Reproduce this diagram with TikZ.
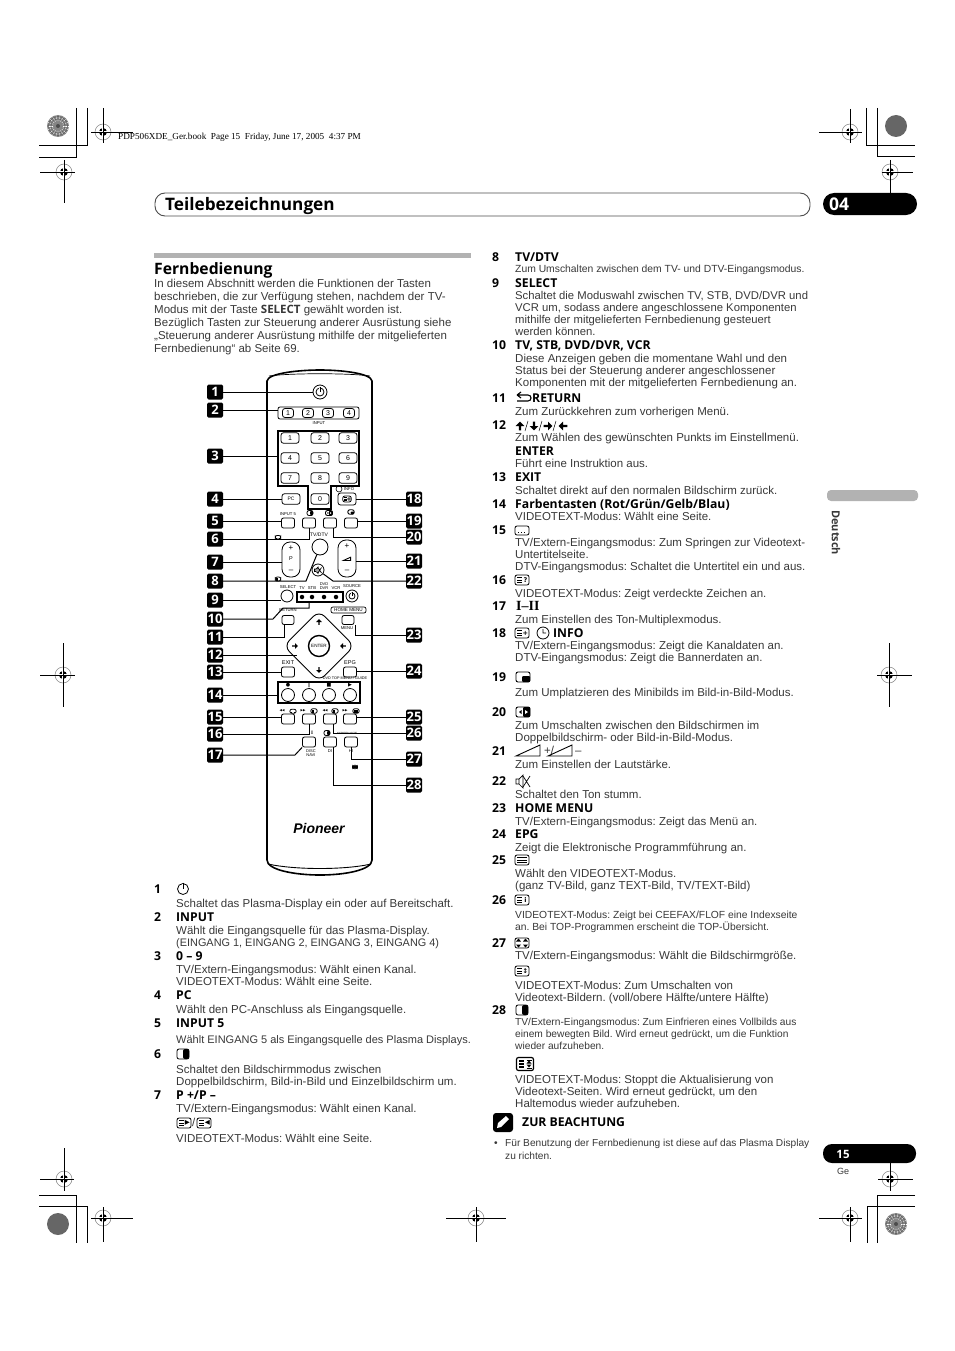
\documentclass[tikz,border=0pt]{standalone}
\usepackage{fontspec}
\usepackage{tikz}
\usetikzlibrary{shapes.geometric}
\setmainfont{Liberation Sans}
\newfontfamily\hdfont{Open Sans}
\newfontfamily\symfont{DejaVu Sans}
\newfontfamily\slugfont{Liberation Serif}
\definecolor{txtgray}{gray}{0.22}
\newcommand{\fs}[2]{\fontsize{#1}{#2}\selectfont\frenchspacing}
\tikzset{
  num/.style={anchor=west,inner sep=0,yshift=-1pt,text height=8.5pt,text depth=2pt,font=\hdfont\bfseries\fs{12.2}{13}},
  hd/.style={num},
  dsc/.style={anchor=north west,inner sep=0,yshift=-2pt,align=left,text=txtgray,font=\fs{11.5}{12.2}},
  inl/.style={anchor=west,inner sep=0,text height=8pt,text depth=2pt,text=txtgray,font=\fs{11.5}{12}},
  badge/.style={fill=black,text=white,rounded corners=1.5,inner sep=0,minimum height=15,minimum width=16,font=\hdfont\bfseries\fs{13}{13}},
  lead/.style={line width=1,line join=miter},
  key/.style={draw,rounded corners=2.5,line width=.8,inner sep=0,minimum width=18,minimum height=10.5,font=\fs{7}{7}},
  soft/.style={draw,rounded corners=2,line width=.8,inner sep=0,minimum width=13,minimum height=10},
  rnd/.style={draw,circle,line width=.8,inner sep=0},
  lab/.style={inner sep=0,font=\fs{4.2}{5}},
  pics/regmark/.style n args={4}{code={
    \draw[gray,line width=.5] (0,0) circle (8);
    \fill (0,0) circle (4);
    \draw[white,line width=1.7] (-5,0) -- (5,0) (0,-5) -- (0,5);
    \draw[line width=.9] (-#1,0) -- (#2,0) (0,-#3) -- (0,#4);
  }},
  pics/disk/.style={code={
    \fill[black!60] (0,0) circle (11);
  }},
  pics/diskm/.style={code={
    \fill[black!48] (0,0) circle (11);
    \foreach \a in {0,20,...,340}
      \draw[white,line width=.4] (\a:5) -- (\a:10.5);
    \draw[black!65,line width=.5] (0,0) circle (7) (0,0) circle (9.5);
    \fill[black!70] (0,0) circle (2);
  }},
  pics/pwricon/.style={code={
    \draw[line width=.8] (0,0) circle (#1);
    \draw[white,line width=2] (0,-#1) -- (0,-.3);
    \draw[line width=.9] (0,-#1-1) -- (0,0);
  }},
  pics/txtbox/.style={code={
    \draw[line width=.8,rounded corners=2] (-7,-5) rectangle (7,5);
    \draw[line width=.8] (-5,-2.4) -- (-.5,-2.4) (-5,0) -- (-.5,0) (-5,2.4) -- (-.5,2.4);
    \node[inner sep=0,font=\symfont\bfseries\fs{6.5}{7}] (-m) at (3.4,0) {#1};
  }},
  pics/holdbox/.style={code={
    \draw[line width=1.2,rounded corners=2] (-8.5,-6.5) rectangle (8.5,6.5);
    \draw[line width=1.1] (-6,-3) -- (-1,-3) (-6,0) -- (-1,0) (-6,3) -- (-1,3);
    \draw[line width=1] (1.5,-4) -- (6.5,-4) (1.5,4) -- (6.5,4);
    \fill (4,-3.5) -- (6.5,-.5) -- (1.5,-.5) -- cycle (4,3.5) -- (6.5,.5) -- (1.5,.5) -- cycle;
  }},
  pics/fullbox/.style={code={
    \draw[line width=.8,rounded corners=2] (-7,-5) rectangle (7,5);
    \draw[line width=.8] (-5,-2.4) -- (5,-2.4) (-5,0) -- (5,0) (-5,2.4) -- (5,2.4);
  }},
  pics/halfbox/.style={code={
    \draw[line width=.8,rounded corners=2] (-6,-5) rectangle (6,5);
    \fill[rounded corners=2] (0,-5) rectangle (6,5);
  }},
  pics/bubble/.style={code={
    \draw[line width=.8,rounded corners=2] (-7,-4) rectangle (7,5);
    \draw[line width=.9,dotted] (-4,2.8) -- (4,2.8);
  }},
  pics/swapbox/.style={code={
    \draw[line width=.9,rounded corners=2] (-7,-5) rectangle (7,5);
    \fill[rounded corners=1] (-1,-1) rectangle (7,5);
  }},
  pics/pairbox/.style={code={
    \draw[line width=.9,rounded corners=2] (-7,-5) rectangle (7,5);
    \fill[rounded corners=1] (0,-5) rectangle (7,5);
    \fill (-4,0) -- (-1.5,-2) -- (-1.5,2) -- cycle;
    \fill[white] (5,0) -- (2,-2) -- (2,2) -- cycle;
  }},
  pics/sizebox/.style={code={
    \draw[line width=.8,rounded corners=2] (-7,-5) rectangle (7,5);
    \fill (-3.5,-4.5) -- (-1,-1.5) -- (-6,-1.5) -- cycle (-3.5,4.5) -- (-1,1.5) -- (-6,1.5) -- cycle;
    \fill (3.5,-4.5) -- (6,-1.5) -- (1,-1.5) -- cycle (3.5,4.5) -- (6,1.5) -- (1,1.5) -- cycle;
  }},
  pics/barrow/.style={code={
    \fill (0,-4) -- (4,0) -- (1,0) -- (1,4) -- (-1,4) -- (-1,0) -- (-4,0) -- cycle;
  }},
  pics/wedge/.style={code={
    \draw[line width=.9] (-12,5) -- (12,5) -- (12,-6) -- cycle;
  }},
  pics/muteicon/.style={code={
    \draw[line width=.7] (-7,-2) rectangle (-4,3) (-4,-2) -- (0,-6) -- (0,7) -- (-4,3);
    \draw[line width=.7] (0,-5) -- (7,6) (7,-5) -- (0,6);
  }}
}
\begin{document}
\begin{tikzpicture}[x=1pt,y=-1pt]
\useasboundingbox (0,0) rectangle (954,1351);

% Print marks
\pic at (103,132) {regmark={12}{30}{24}{11}};
\pic at (64,172) {regmark={24}{11}{12}{31}};
\pic at (850,132) {regmark={31}{12}{23}{11}};
\pic at (890,172) {regmark={8}{23}{12}{21}};
\pic at (63,675) {regmark={23}{12}{32}{32}};
\pic at (889,675) {regmark={12}{23}{32}{32}};
\pic at (64,1179) {regmark={24}{10}{31}{12}};
\pic at (103,1218) {regmark={12}{30}{11}{24}};
\pic at (476,1218) {regmark={30}{30}{11}{24}};
\pic at (850,1218) {regmark={31}{12}{11}{24}};
\pic at (890,1179) {regmark={12}{23}{31}{12}};
\pic at (58,126) {diskm};
\pic at (896,126) {disk};
\pic at (58,1224) {disk};
\pic at (896,1224) {diskm};
\draw[line width=.9] (76,108) -- (76,157) -- (39,157) (87,108) -- (87,145) -- (39,145);
\draw[line width=.9] (866,108) -- (866,145) -- (915,145) (877,108) -- (877,156) -- (915,156);
\draw[line width=.9] (39,1195) -- (76,1195) -- (76,1243) (39,1206) -- (87,1206) -- (87,1243);
\draw[line width=.9] (915,1195) -- (877,1195) -- (877,1243) (915,1206) -- (867,1206) -- (867,1243);
\node[anchor=west,inner sep=0,font=\slugfont\fs{9.2}{9}] (slug) at (118,137) {PDP506XDE\_Ger.book\ \ Page 15\ \ Friday, June 17, 2005\ \ 4:37 PM};

% Header
\draw[black!70,line width=.9,rounded corners=10] (155,193) rectangle (810,216);
\node[anchor=west,inner sep=0,font=\hdfont\bfseries\fs{17.2}{19}] (title) at (165,206) {Teilebezeichnungen};
\fill[rounded corners=11] (823,193) rectangle (917,215);
\node[anchor=west,inner sep=0,text=white,font=\hdfont\bfseries\fs{17.5}{17}] (chap) at (829,204) {04};
\fill[gray!60,rounded corners=4] (827,490) rectangle (918,501);
\node[rotate=-90,anchor=west,inner sep=0,text=txtgray,font=\hdfont\bfseries\fs{11}{11}] (lang) at (836,510) {Deutsch};
\fill[rounded corners=9] (823,1144) rectangle (916,1163);
\node[inner sep=0,text=white,font=\hdfont\bfseries\fs{11.5}{12}] (page) at (843,1154) {15};
\node[inner sep=0,text=txtgray,font=\fs{9}{10}] (pagelang) at (843,1171) {Ge};

% Intro
\fill[gray!60] (154,253) rectangle (471,258);
\node[anchor=west,inner sep=0,font=\hdfont\bfseries\fs{15.7}{17}] (sect) at (154,270) {Fernbedienung};
\node[dsc,font=\fs{11.5}{13}] (intro) at (154,277) {In diesem Abschnitt werden die Funktionen der Tasten\\
beschrieben, die zur Verfügung stehen, nachdem der TV-\\
Modus mit der Taste {\hdfont\bfseries SELECT} gewählt worden ist.\\
Bezüglich Tasten zur Steuerung anderer Ausrüstung siehe\\
„Steuerung anderer Ausrüstung mithilfe der mitgelieferten\\
Fernbedienung“ ab Seite 69.};

% Remote body
\draw[line width=1.6] (267,860) -- (267,381) .. controls (268,373) and (300,370) .. (320,370) .. controls (340,370) and (371,373) .. (372,381) -- (372,860) .. controls (372,870) and (345,875) .. (320,875) .. controls (295,875) and (267,870) .. (267,860);
\draw[line width=.7] (269,376) .. controls (290,373) and (350,373) .. (370,376);
\draw[line width=.9] (268,864) .. controls (295,870) and (345,870) .. (371,864);

% Buttons
\node[rnd,minimum size=14] (pwr) at (320,392) {};
\pic at (320,392) {pwricon=4};
\node[draw,rounded corners=2,line width=.8,minimum width=81,minimum height=12,inner sep=0] (inbox) at (318.5,413) {};
\foreach \i/\x in {1/288,2/308,3/328,4/349}
    \node[key,minimum width=11,minimum height=9] (inp\i) at (\x,413) {\i};
\node[lab] (lin) at (319,423) {INPUT};
\draw[line width=1.3] (278,431) -- (359,431) -- (359,486) -- (331,486) -- (331,509) -- (308,509) -- (308,486) -- (278,486) -- cycle;
\coordinate (kp) at (278,456);
\foreach \i/\x/\y in {1/290/438,2/320/438,3/348/438,4/290/458,5/320/458,6/348/458,7/290/478,8/320/478,9/348/478,0/320/499}
    \node[key] (k\i) at (\x,\y) {\i};
\node[key,font=\fs{5}{5}] (kpc) at (291,499) {PC};
\node[key,minimum height=12] (kinfo) at (347,499) {};
\pic[scale=.6] (tinfo) at (347,499) {txtbox={+}};
\node[lab] (linfo) at (349,489) {INFO};
\draw[line width=.6] (339,489) circle (3);
\foreach \n/\x in {a/288,b/309,c/330,d/351}
    \node[soft] (r\n) at (\x,523) {};
\node[lab] (lin5) at (288,514) {INPUT 5};
\pic[scale=.5] at (310,513) {halfbox};
\pic[scale=.5] at (329,513) {pairbox};
\pic[scale=.45] at (351,512) {swapbox};
\node[draw,rounded corners=8,line width=.8,minimum width=18,minimum height=35,inner sep=0] (chp) at (291,559.5) {};
\node[inner sep=0,font=\fs{8}{8}] (chm) at (291,548) {+};
\node[inner sep=0,font=\fs{5.5}{6}] (chl) at (291,559) {P};
\node[inner sep=0,font=\fs{8}{8}] (chn) at (291,571) {--};
\node[draw,rounded corners=8,line width=.8,minimum width=18,minimum height=37,inner sep=0] (vol) at (347,558.5) {};
\node[inner sep=0,font=\fs{8}{8}] (volp) at (347,546) {+};
\node[inner sep=0,font=\fs{8}{8}] (voln) at (347,571) {--};
\pic[scale=.3] at (347,559) {wedge};
\pic[scale=.4] at (278,537) {bubble};
\pic[scale=.4] at (278,579) {txtbox={}};
\node[lab,font=\fs{5}{5}] (ltv) at (319,535) {TV/DTV};
\node[rnd,minimum size=16] (tvb) at (320,547) {};
\node[rnd,minimum size=12] (mute) at (318,570) {};
\pic[scale=.5] at (318,570) {muteicon};
\node[lab] (lsel) at (288,587) {SELECT};
\node[rnd,minimum size=12] (sel) at (287,596) {};
\node[draw,line width=1.3,minimum width=46,minimum height=10,inner sep=0] (leds) at (320,597) {};
\foreach \i/\x in {1/302,2/312,3/324,4/336}
    \node[fill=black,circle,minimum size=4.5,inner sep=0] (led\i) at (\x,597) {};
\node[lab] (ltvl) at (302,588) {TV};
\node[lab] (lstb) at (312,588) {STB};
\node[lab,align=center,font=\fs{4}{4.4}] (ldvd) at (324,586) {DVD\\DVR};
\node[lab] (lvcr) at (336,588) {VCR};
\node[lab] (lsrc) at (352,586) {SOURCE};
\node[rnd,minimum size=12] (src) at (352,596) {};
\pic at (352,596) {pwricon=3};
\node[lab] (lret) at (288,610) {RETURN};
\node[soft,minimum width=12,minimum height=9] (ret) at (288,620) {};
\node[draw,rounded corners=2,line width=.7,minimum width=35,minimum height=6,inner sep=0,font=\fs{4.6}{5}] (hm) at (348.5,610) {HOME MENU};
\node[soft,minimum width=12,minimum height=9] (menu) at (348,620) {};
\node[lab] (lmenu) at (347,628) {MENU};
\node[diamond,draw,aspect=1,rounded corners=8,line width=.9,minimum size=71,inner sep=0] (dpad) at (319,646) {};
\node[rnd,line width=1.4,minimum size=21,font=\fs{4.6}{5}] (enter) at (319,646) {ENTER};
\pic[scale=.7] at (319,622) {barrow};
\pic[scale=.7,rotate=180] at (319,670) {barrow};
\pic[scale=.7,rotate=-90] at (295,646) {barrow};
\pic[scale=.7,rotate=90] at (343,646) {barrow};
\coordinate (dp12) at (297,655);
\node[lab,font=\fs{5.5}{6}] (lexit) at (288,663) {EXIT};
\node[soft] (exit) at (288,672) {};
\node[lab,font=\fs{5.5}{6}] (lepg) at (350,663) {EPG};
\node[soft] (epg) at (350,672) {};
\node[lab,font=\fs{3.8}{4}] (ldvdt) at (345,678) {DVD TOP MENU / GUIDE};
\node[draw,line width=1.3,minimum width=82,minimum height=21,inner sep=0] (colbox) at (319,692.5) {};
\foreach \i/\x/\s in {1/288/●,2/309/‖,3/329/■,4/350/▶} {
    \node[rnd,minimum size=13] (col\i) at (\x,695) {};
    \node[inner sep=0,font=\symfont\fs{5}{5}] (cs\i) at (\x,685) {\s};
}
\foreach \n/\x in {a/288,b/309,c/330,d/350}
    \node[soft] (t\n) at (\x,719) {};
\foreach \n/\x/\s in {a/282/◀◀,b/303/▶▶,c/325/◀◀,d/345/▶▶}
    \node[inner sep=0,font=\symfont\fs{3.2}{4}] (ts\n) at (\x,711) {\s};
\pic[scale=.45] at (293,711) {bubble};
\pic[scale=.45] at (314,711) {txtbox={}};
\pic[scale=.45] at (335,711) {txtbox={}};
\pic[scale=.45] at (356,711) {fullbox};
\foreach \n/\x in {a/309,b/330,c/351}
    \node[soft] (u\n) at (\x,742) {};
\node[lab,font=\slugfont\bfseries\fs{5}{5}] (lmpx) at (312,733) {I};
\pic[scale=.5] at (327,733) {halfbox};
\node[lab,font=\fs{3}{3}] (lsize) at (347,733) {SCREEN SIZE};
\node[lab,align=center,font=\fs{4}{4.4}] (ldisc) at (311,753) {DISC\\NAVI};
\node[lab] (ldi) at (330,751) {DI};
\node[lab] (lhi) at (351,751) {HI};
\pic[scale=.35] at (355,767) {fullbox};
\node[inner sep=0,font=\bfseries\itshape\fs{14}{14}] (logo) at (319,828) {Pioneer};

% Left badges
\foreach \i/\y in {1/392,2/410,3/456,4/499,5/521,6/539,7/562,8/581,9/600,10/619,11/637,12/655,13/672,14/695,15/717,16/734,17/755}
    \node[badge] (b\i) at (215,\y) {\i};
% Right badges
\foreach \i/\y in {18/499,19/521,20/537,21/561,22/581,23/635,24/671,25/717,26/733,27/759,28/785}
    \node[badge] (b\i) at (414,\y) {\i};

% Leaders
\draw[lead] (b1) -- (pwr);
\draw[lead] (b2) -- (b2 -| inbox.west);
\draw[lead] (b3) -- (kp);
\draw[lead] (b4) -- (kpc);
\draw[lead] (b5) -- (b5 -| ra.west);
\draw[lead] (b6) -| (rb);
\draw[lead] (b7) -- (b7 -| chp.west);
\draw[lead] (b8) -- (306,581) -- (tvb);
\draw[lead] (b9) -- (b9 -| sel.west);
\draw[lead] (b10) -- (273,619) -- (283,608) -- (309,608) -- (leds.south -| 309,0);
\draw[lead] (b11) -| ([xshift=-4]ret.south);
\draw[lead] (b12) -- (dp12);
\draw[lead] (b13) -- (exit);
\draw[lead] (b14) -- (b14 -| colbox.west);
\draw[lead] (b15) -- (b15 -| ta.west);
\draw[lead] (b16) -| (tb);
\draw[lead] (b17) -- (295,755) -- (ua.south west);
\draw[lead] (b18) -- (kinfo);
\draw[lead] (b19) -- (b19 -| rd.east);
\draw[lead] (b20) -| ([xshift=3]rc.south);
\draw[lead] (b21) -- (b21 -| vol.east);
\draw[lead] (b22) -- (333,581) -- (mute);
\draw[lead] (b23) -| ([xshift=7]menu.south);
\draw[lead] (b24) -- (b24 -| epg.east);
\draw[lead] (b25) -- (b25 -| td.east);
\draw[lead] (b26) -| ([xshift=3]tc.south);
\draw[lead] (b27) -| (uc);
\draw[lead] (b28) -| ([xshift=3]ub.south);

% Left list
\foreach \i/\y in {1/889,2/917,3/956,4/995,5/1023,6/1054,7/1095}
    \node[num] (n\i) at (154,\y) {\i};
\pic at (183,889) {pwricon=5.5};
\node[dsc] (d1) at (176,897) {Schaltet das Plasma-Display ein oder auf Bereitschaft.};
\node[hd] (h2) at (176,917) {INPUT};
\node[dsc] (d2) at (176,924) {Wählt die Eingangsquelle für das Plasma-Display.\\{\fs{10.9}{12.2}(EINGANG 1, EINGANG 2, EINGANG 3, EINGANG 4)}};
\node[hd] (h3) at (176,956) {0 – 9};
\node[dsc] (d3) at (176,963) {TV/Extern-Eingangsmodus: Wählt einen Kanal.\\VIDEOTEXT-Modus: Wählt eine Seite.};
\node[hd] (h4) at (176,995) {PC};
\node[dsc] (d4) at (176,1003) {Wählt den PC-Anschluss als Eingangsquelle.};
\node[hd] (h5) at (176,1023) {INPUT 5};
\node[dsc,font=\fs{11}{12}] (d5) at (176,1033) {Wählt EINGANG 5 als Eingangsquelle des Plasma Displays.};
\pic at (183,1054) {halfbox};
\node[dsc] (d6) at (176,1063) {Schaltet den Bildschirmmodus zwischen\\Doppelbildschirm, Bild-in-Bild und Einzelbildschirm um.};
\node[hd] (h7) at (176,1095) {P +/P –};
\node[dsc] (d7) at (176,1102) {TV/Extern-Eingangsmodus: Wählt einen Kanal.};
\pic (k7a) at (184,1123) {txtbox={▶}};
\node[inl] (s7) at (192,1123) {/};
\pic (k7b) at (204,1123) {txtbox={◀}};
\node[dsc] (e7) at (176,1132) {VIDEOTEXT-Modus: Wählt eine Seite.};

% Right list
\foreach \i/\y in {8/257,9/283,10/345,11/398,12/425,13/477,14/504,15/530,16/580,17/606,18/633,19/677,20/712,21/751,22/781,23/808,24/834,25/860,26/900,27/943,28/1010}
    \node[num] (n\i) at (492,\y) {\i};
\node[hd] (h8) at (515,257) {TV/DTV};
\node[dsc,font=\fs{10.35}{12}] (d8) at (515,263) {Zum Umschalten zwischen dem TV- und DTV-Eingangsmodus.};
\node[hd] (h9) at (515,283) {SELECT};
\node[dsc,font=\fs{11.3}{12.2}] (d9) at (515,289) {Schaltet die Moduswahl zwischen TV, STB, DVD/DVR und\\VCR um, sodass andere angeschlossene Komponenten\\mithilfe der mitgelieferten Fernbedienung gesteuert\\werden können.};
\node[hd] (h10) at (515,345) {TV, STB, DVD/DVR, VCR};
\node[dsc] (d10) at (515,352) {Diese Anzeigen geben die momentane Wahl und den\\Status bei der Steuerung anderer angeschlossener\\Komponenten mit der mitgelieferten Fernbedienung an.};
\draw[line width=1.1] (517,395) -- (528,395) .. controls (532,395) and (532,401) .. (528,401) -- (517,401) (517,395) -- (521,392) (517,395) -- (521,398);
\node[hd] (h11) at (532,398) {RETURN};
\node[dsc] (d11) at (515,405) {Zum Zurückkehren zum vorherigen Menü.};
\pic[scale=1.1] at (520,426) {barrow};
\pic[scale=1.1,rotate=180] at (534,426) {barrow};
\pic[scale=1.1,rotate=-90] at (548,426) {barrow};
\pic[scale=1.1,rotate=90] at (563,426) {barrow};
\draw[line width=.5] (525,431) -- (528,421) (539,431) -- (542,421) (553,431) -- (556,421);
\node[dsc] (d12) at (515,431) {Zum Wählen des gewünschten Punkts im Einstellmenü.};
\node[hd] (h12) at (515,451) {ENTER};
\node[dsc] (e12) at (515,457) {Führt eine Instruktion aus.};
\node[hd] (h13) at (515,477) {EXIT};
\node[dsc] (d13) at (515,484) {Schaltet direkt auf den normalen Bildschirm zurück.};
\node[hd] (h14) at (515,504) {Farbentasten (Rot/Grün/Gelb/Blau)};
\node[dsc] (d14) at (515,510) {VIDEOTEXT-Modus: Wählt eine Seite.};
\pic at (522,530) {bubble};
\node[dsc] (d15) at (515,536) {TV/Extern-Eingangsmodus: Zum Springen zur Videotext-\\Untertitelseite.\\DTV-Eingangsmodus: Schaltet die Untertitel ein und aus.};
\pic (k16) at (522,580) {txtbox={?}};
\node[dsc] (d16) at (515,587) {VIDEOTEXT-Modus: Zeigt verdeckte Zeichen an.};
\node[hd,font=\slugfont\bfseries\fs{14}{14}] (h17) at (516,606) {I–II};
\node[dsc] (d17) at (515,613) {Zum Einstellen des Ton-Multiplexmodus.};
\pic (k18) at (522,633) {txtbox={+}};
\draw[line width=.8] (543,633) circle (6) (543,629) -- (543,633) -- (546,633);
\node[hd] (h18) at (553,633) {INFO};
\node[dsc] (d18) at (515,639) {TV/Extern-Eingangsmodus: Zeigt die Kanaldaten an.\\DTV-Eingangsmodus: Zeigt die Bannerdaten an.};
\pic at (523,677) {swapbox};
\node[dsc] (d19) at (515,686) {Zum Umplatzieren des Minibilds im Bild-in-Bild-Modus.};
\pic at (523,712) {pairbox};
\node[dsc] (d20) at (515,719) {Zum Umschalten zwischen den Bildschirmen im\\Doppelbildschirm- oder Bild-in-Bild-Modus.};
\pic at (528,751) {wedge};
\node[inl] (p21) at (544,751) {+/};
\pic at (560,751) {wedge};
\node[inl] (m21) at (575,751) {–};
\node[dsc] (d21) at (515,758) {Zum Einstellen der Lautstärke.};
\pic at (523,781) {muteicon};
\node[dsc] (d22) at (515,788) {Schaltet den Ton stumm.};
\node[hd] (h23) at (515,808) {HOME MENU};
\node[dsc] (d23) at (515,815) {TV/Extern-Eingangsmodus: Zeigt das Menü an.};
\node[hd] (h24) at (515,834) {EPG};
\node[dsc] (d24) at (515,841) {Zeigt die Elektronische Programmführung an.};
\pic at (522,860) {fullbox};
\node[dsc] (d25) at (515,867) {Wählt den VIDEOTEXT-Modus.\\(ganz TV-Bild, ganz TEXT-Bild, TV/TEXT-Bild)};
\pic (k26) at (522,900) {txtbox={i}};
\node[dsc,font=\fs{10.3}{12}] (d26) at (515,909) {VIDEOTEXT-Modus: Zeigt bei CEEFAX/FLOF eine Indexseite\\an. Bei TOP-Programmen erscheint die TOP-Übersicht.};
\pic at (522,943) {sizebox};
\node[dsc] (d27) at (515,949) {TV/Extern-Eingangsmodus: Wählt die Bildschirmgröße.};
\pic (k27b) at (522,971) {txtbox={↕}};
\node[dsc] (e27) at (515,979) {VIDEOTEXT-Modus: Zum Umschalten von\\Videotext-Bildern. (voll/obere Hälfte/untere Hälfte)};
\pic at (522,1010) {halfbox};
\node[dsc,font=\fs{10.2}{12}] (d28) at (515,1016) {TV/Extern-Eingangsmodus: Zum Einfrieren eines Vollbilds aus\\einem bewegten Bild. Wird erneut gedrückt, um die Funktion\\wieder aufzuheben.};
\pic at (525,1064) {holdbox};
\node[dsc] (e28) at (515,1073) {VIDEOTEXT-Modus: Stoppt die Aktualisierung von\\Videotext-Seiten. Wird erneut gedrückt, um den\\Haltemodus wieder aufzuheben.};

% Note
\fill[rounded corners=3] (493,1113) rectangle (513,1132);
\fill[white] (497,1128) -- (498,1123) -- (506,1116) -- (509,1119) -- (501,1127) -- cycle;
\node[hd] (note) at (522,1122) {ZUR BEACHTUNG};
\node[inl,font=\fs{10.2}{12}] (bul) at (494,1143) {•};
\node[dsc,font=\fs{10.15}{12.5}] (notetxt) at (505,1137) {Für Benutzung der Fernbedienung ist diese auf das Plasma Display\\zu richten.};
\end{tikzpicture}
\end{document}
